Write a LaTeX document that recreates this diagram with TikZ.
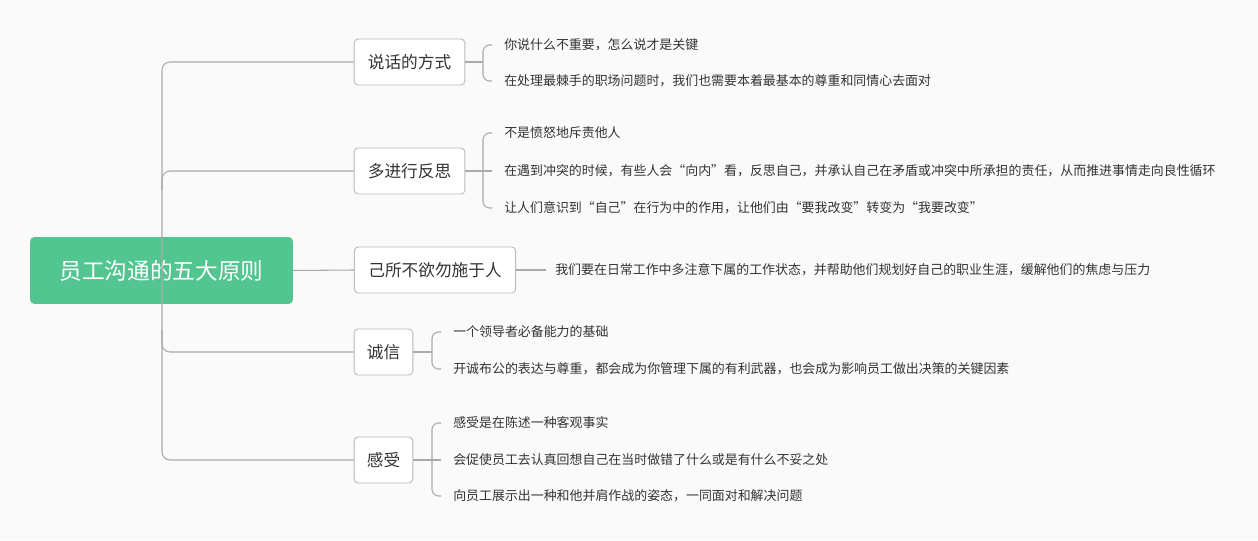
\documentclass[tikz,border=0pt]{standalone}
\usepackage{fontspec}
\newfontfamily\cjk{Noto Sans CJK SC}
\definecolor{bg}{HTML}{FAFAFA}
\definecolor{rootc}{HTML}{52C590}
\definecolor{ln}{HTML}{AAAAAA}
\definecolor{tx}{HTML}{333333}
\begin{document}
\begin{tikzpicture}[x=0.75pt,y=-0.75pt,
  conn/.style={draw=ln,line width=0.8pt},
  br/.style={draw=ln!80,fill=white,rounded corners=3pt,line width=0.7pt,minimum height=34.5pt,inner xsep=0pt,font=\cjk\fontsize{12.5pt}{14pt}\selectfont,text=tx},
  leaf/.style={anchor=west,inner sep=0pt,font=\cjk\fontsize{9.7pt}{11pt}\selectfont,text=tx}]
\fill[bg] (0,0) rectangle (1258,540);
\useasboundingbox (0,0) rectangle (1258,540);
\node[fill=rootc,rounded corners=3pt,minimum width=197pt,minimum height=50pt,text=white,font=\cjk\fontsize{17pt}{20pt}\selectfont] (root) at (161.5,270.5) {员工沟通的五大原则};
\node[br,minimum width=83pt] (b1) at (409.5,62) {说话的方式};
\node[br,minimum width=83pt] (b2) at (409.5,171) {多进行反思};
\node[br,minimum width=121pt] (b3) at (435,270) {己所不欲勿施于人};
\node[br,minimum width=44pt] (b4) at (383.5,352) {诚信};
\node[br,minimum width=44pt] (b5) at (383.5,460) {感受};
% trunk
\draw[conn,rounded corners=6pt] (b1.west) -- (162,62) -- (162,460) -- (b5.west);
\draw[conn,rounded corners=6pt] (162,190) -- (162,171) -- (b2.west);
\draw[conn,rounded corners=6pt] (162,330) -- (162,352) -- (b4.west);
\draw[conn] (root.east) -- (b3.west);
% leaves
\node[leaf] (l11) at (504,45) {你说什么不重要，怎么说才是关键};
\node[leaf] (l12) at (504,81) {在处理最棘手的职场问题时，我们也需要本着最基本的尊重和同情心去面对};
\node[leaf] (l21) at (504,133) {不是愤怒地斥责他人};
\node[leaf] (l22) at (504,171) {在遇到冲突的时候，有些人会“向内”看，反思自己，并承认自己在矛盾或冲突中所承担的责任，从而推进事情走向良性循环};
\node[leaf] (l23) at (504,208) {让人们意识到“自己”在行为中的作用，让他们由“要我改变”转变为“我要改变”};
\node[leaf] (l31) at (555,270) {我们要在日常工作中多注意下属的工作状态，并帮助他们规划好自己的职业生涯，缓解他们的焦虑与压力};
\node[leaf] (l41) at (453,332) {一个领导者必备能力的基础};
\node[leaf] (l42) at (453,369) {开诚布公的表达与尊重，都会成为你管理下属的有利武器，也会成为影响员工做出决策的关键因素};
\node[leaf] (l51) at (453,423) {感受是在陈述一种客观事实};
\node[leaf] (l52) at (453,460) {会促使员工去认真回想自己在当时做错了什么或是有什么不妥之处};
\node[leaf] (l53) at (453,496) {向员工展示出一种和他并肩作战的姿态，一同面对和解决问题};
% brackets
\draw[conn] (b1.east) -- (483,62);
\draw[conn,rounded corners=5pt] ([xshift=-9pt]l11.west) -- (483,45) -- (483,81) -- ([xshift=-9pt]l12.west);
\draw[conn] (b2.east) -- (483,171) -- ([xshift=-9pt]l22.west);
\draw[conn,rounded corners=5pt] ([xshift=-9pt]l21.west) -- (483,133) -- (483,208) -- ([xshift=-9pt]l23.west);
\draw[conn] (b3.east) -- ([xshift=-7pt]l31.west);
\draw[conn] (b4.east) -- (432,352);
\draw[conn,rounded corners=5pt] ([xshift=-9pt]l41.west) -- (432,332) -- (432,369) -- ([xshift=-9pt]l42.west);
\draw[conn] (b5.east) -- (432,460) -- ([xshift=-9pt]l52.west);
\draw[conn,rounded corners=5pt] ([xshift=-9pt]l51.west) -- (432,423) -- (432,496) -- ([xshift=-9pt]l53.west);
\end{tikzpicture}
\end{document}
